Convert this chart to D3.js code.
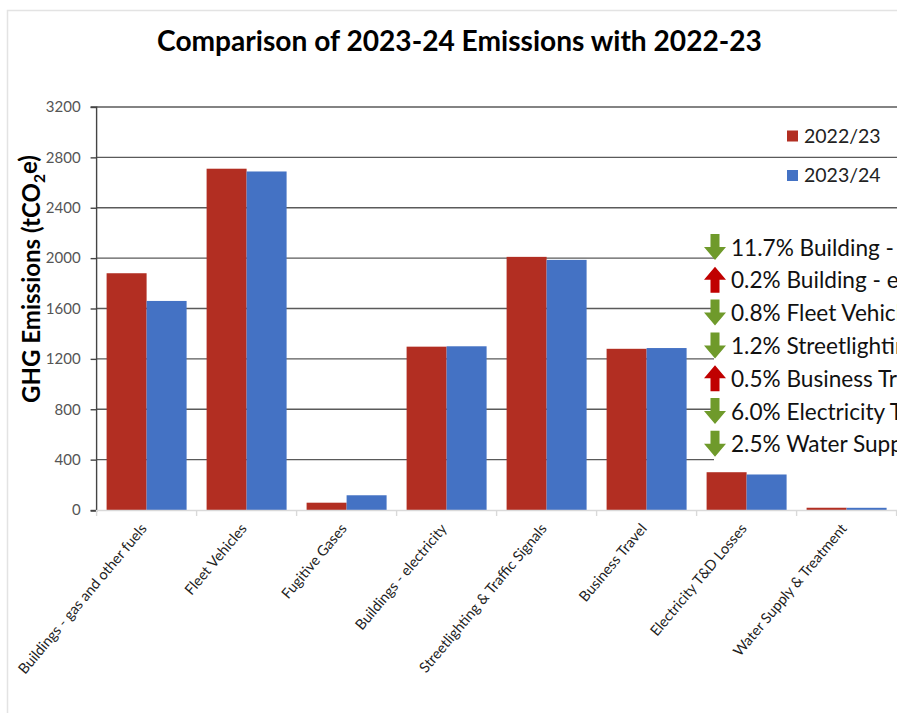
<!DOCTYPE html>
<html><head><meta charset="utf-8">
<script src="https://cdn.jsdelivr.net/npm/d3@7/dist/d3.min.js"></script>
<style>
html,body{margin:0;padding:0;background:#fff;overflow:hidden;}
svg{display:block;}
</style></head>
<body>
<script>
const categories = ["Buildings - gas and other fuels","Fleet Vehicles","Fugitive Gases","Buildings - electricity","Streetlighting & Traffic Signals","Business Travel","Electricity T&D Losses","Water Supply & Treatment"];
const values2022 = [1880, 2710, 58, 1297, 2010, 1280, 300, 18];
const values2023 = [1660, 2688, 117, 1300, 1986, 1286, 282, 17.5];
const seriesNames = ["2022/23", "2023/24"];
const yTicks = [0, 400, 800, 1200, 1600, 2000, 2400, 2800, 3200];
const notes = [
  {dir: "down", text: "11.7% Building - gas & other fuels"},
  {dir: "up", text: "0.2% Building - electricity"},
  {dir: "down", text: "0.8% Fleet Vehicles"},
  {dir: "down", text: "1.2% Streetlighting"},
  {dir: "up", text: "0.5% Business Travel"},
  {dir: "down", text: "6.0% Electricity T&D Losses"},
  {dir: "down", text: "2.5% Water Supply & Treatment"}
];

(function(){
const W = 897, H = 713;
const colors = ["#b22e22", "#4472c4"];
const FONT = "Lato, 'Open Sans', sans-serif";

const svg = d3.select("body").append("svg").attr("width", W).attr("height", H);

// frame
svg.append("path").attr("d", `M7.5,${H} V10.5 H${W}`).attr("fill","none").attr("stroke","#e3e3e3").attr("stroke-width",1.5);

const pLeft = 96.6, pRight = 896.6, pTop = 107, pBottom = 510;
const x = d3.scaleBand().domain(categories).range([pLeft, pRight]).paddingInner(0.2).paddingOuter(0.1);
const y = d3.scaleLinear().domain([0, 3200]).range([pBottom, pTop]);

function fitText(sel, target) {
  const w = sel.node().getComputedTextLength();
  const fs = parseFloat(sel.attr("font-size"));
  sel.attr("font-size", fs * target / w);
}

// gridlines
const g = svg.append("g");
g.selectAll("line.grid").data(yTicks.filter(d => d > 0)).join("line")
  .attr("x1", pLeft).attr("x2", W).attr("y1", d => y(d)).attr("y2", d => y(d))
  .attr("stroke", "#5a5a5a").attr("stroke-width", 1.4);

// y axis
const yAxis = d3.axisLeft(y).tickValues(yTicks).tickFormat(d3.format("d")).tickSize(6).tickPadding(10);
const ya = svg.append("g").attr("transform", `translate(${pLeft},0)`).call(yAxis);
ya.select(".domain").attr("stroke", "#444").attr("stroke-width", 1.4).attr("d", `M-6,${pTop}H0V${pBottom + 1}H-6`);
ya.selectAll(".tick line").attr("stroke", "#444").attr("stroke-width", 1.4);
ya.selectAll(".tick text").attr("font-family", FONT).attr("font-size", 15).attr("fill", "#555");

// bars
const sub = d3.scaleBand().domain([0, 1]).range([0, x.bandwidth()]);
const bars = svg.append("g");
categories.forEach((c, i) => {
  [values2022[i], values2023[i]].forEach((v, j) => {
    bars.append("rect")
      .attr("x", x(c) + sub(j)).attr("width", sub.bandwidth())
      .attr("y", y(v)).attr("height", y(0) - y(v))
      .attr("fill", colors[j]);
  });
});

// x axis (light)
const xa = svg.append("g");
xa.append("line").attr("x1", pLeft).attr("x2", W).attr("y1", pBottom + 0.5).attr("y2", pBottom + 0.5).attr("stroke", "#d9d9d9").attr("stroke-width", 1.4);
const boundaries = categories.map(c => x(c) - x.step() * x.paddingInner() / 2);
xa.selectAll("line.t").data(boundaries.concat([pRight])).join("line")
  .attr("x1", d => d).attr("x2", d => d).attr("y1", pBottom).attr("y2", pBottom + 6)
  .attr("stroke", "#d9d9d9").attr("stroke-width", 1.4);
xa.selectAll("text").data(categories).join("text")
  .attr("transform", d => `translate(${x(d) + x.bandwidth() / 2 + 1},${pBottom + 19}) rotate(-50)`)
  .attr("text-anchor", "end")
  .attr("font-family", FONT).attr("font-size", 14.5).attr("fill", "#222")
  .text(d => d);

// title
const title = svg.append("text").attr("x", 459.5).attr("y", 51).attr("text-anchor", "middle")
  .attr("font-family", FONT).attr("font-weight", "bold").attr("font-size", 26).attr("fill", "#000")
  .text("Comparison of 2023-24 Emissions with 2022-23");
fitText(title, 605);

// y title
const yt = svg.append("text").attr("transform", "translate(40,279) rotate(-90)").attr("text-anchor", "middle")
  .attr("font-family", FONT).attr("font-weight", "bold").attr("font-size", 24).attr("fill", "#000");
yt.append("tspan").text("GHG Emissions (tCO");
yt.append("tspan").attr("font-size", "0.65em").attr("dy", "0.3em").text("2");
yt.append("tspan").attr("dy", "-0.3em").text("e)");
const ytLen = yt.node().getComputedTextLength();
yt.attr("font-size", 24 * 248 / ytLen);

// legend
const leg = svg.append("g");
seriesNames.forEach((s, i) => {
  const ly = 136 + i * 39.5;
  leg.append("rect").attr("x", 787).attr("y", ly - 5.5).attr("width", 11).attr("height", 11).attr("fill", colors[i]);
  leg.append("text").attr("x", 804).attr("y", ly + 6.5).attr("font-family", FONT).attr("font-size", 19.5).attr("fill", "#222").text(s);
});

// annotation box
const ann = svg.append("g");
ann.append("rect").attr("x", 714).attr("y", 231).attr("width", W - 714).attr("height", 231).attr("fill", "#fff");
const arrowDown = "M-4.5,-13 H4.5 V0 H11 L0,13 L-11,0 H-4.5 Z";
const arrowUp = "M-4.5,13 H4.5 V0 H11 L0,-13 L-11,0 H-4.5 Z";
const probe = svg.append("text").attr("font-family", FONT).attr("font-size", 25).text("11.7% Building -");
fitText(probe, 163);
const annFs = parseFloat(probe.attr("font-size"));
probe.remove();
notes.forEach((n, i) => {
  const cy = 247 + i * 32.8;
  ann.append("path").attr("d", n.dir === "down" ? arrowDown : arrowUp)
    .attr("transform", `translate(715,${cy})`)
    .attr("fill", n.dir === "down" ? "#6f9a2b" : "#c00000");
  ann.append("text").attr("x", 731).attr("y", cy + 8.5)
    .attr("font-family", FONT).attr("font-size", annFs).attr("fill", "#111").text(n.text);
});
})();
</script>
</body></html>
